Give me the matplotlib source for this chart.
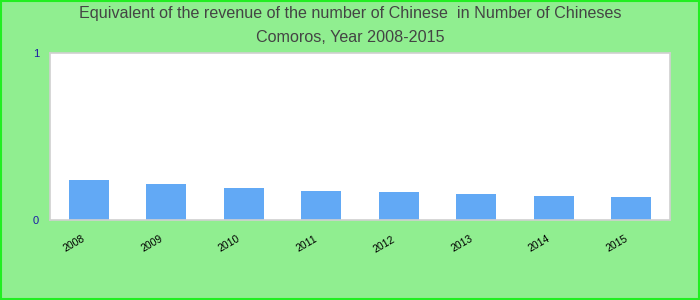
import matplotlib.pyplot as plt
from matplotlib.patches import Rectangle
from matplotlib.transforms import ScaledTranslation

plt.rcParams['font.family'] = ['Liberation Sans', 'DejaVu Sans']

years = ['2008', '2009', '2010', '2011', '2012', '2013', '2014', '2015']
values = [0.240, 0.216, 0.192, 0.174, 0.168, 0.156, 0.144, 0.138]

fig = plt.figure(figsize=(7, 3), dpi=100, facecolor='#90ee90')
ax = fig.add_axes([50 / 700, 80 / 300, 620 / 700, 167 / 300])

x = range(len(years))
ax.bar(x, values, width=0.52, color='#62a9f5')
ax.set_xlim(-0.5, len(years) - 0.5)
ax.set_ylim(0, 1)

ax.set_yticks([0, 1])
ax.set_yticklabels(['0', '1'], color='#1a1aa6', fontsize=8)
ax.set_xticks(list(x))
ax.set_xticklabels(years, rotation=30, fontsize=7.5, ha='right', rotation_mode='anchor')
ax.tick_params(axis='both', length=0)
ax.tick_params(axis='y', pad=8)
ax.tick_params(axis='x', pad=10)
shift = ScaledTranslation(-7 / 100, 0, fig.dpi_scale_trans)
for lbl in ax.get_xticklabels():
    lbl.set_transform(lbl.get_transform() + shift)
for s in ax.spines.values():
    s.set_color('#d0d0d0')
    s.set_linewidth(1.2)

fig.text(0.5, 0.98, 'Equivalent of the revenue of the number of Chinese  in Number of Chineses',
         ha='center', va='top', fontsize=11.6, color='#444444')
fig.text(0.5, 0.90, 'Comoros, Year 2008-2015',
         ha='center', va='top', fontsize=11.6, color='#444444')

# outer green frame
fig.patches.append(Rectangle((0.001, 0.002), 0.997, 0.995, transform=fig.transFigure,
                             fill=False, edgecolor='#22ee22', linewidth=1.5))

fig.savefig('out.png', dpi=100, facecolor=fig.get_facecolor())
